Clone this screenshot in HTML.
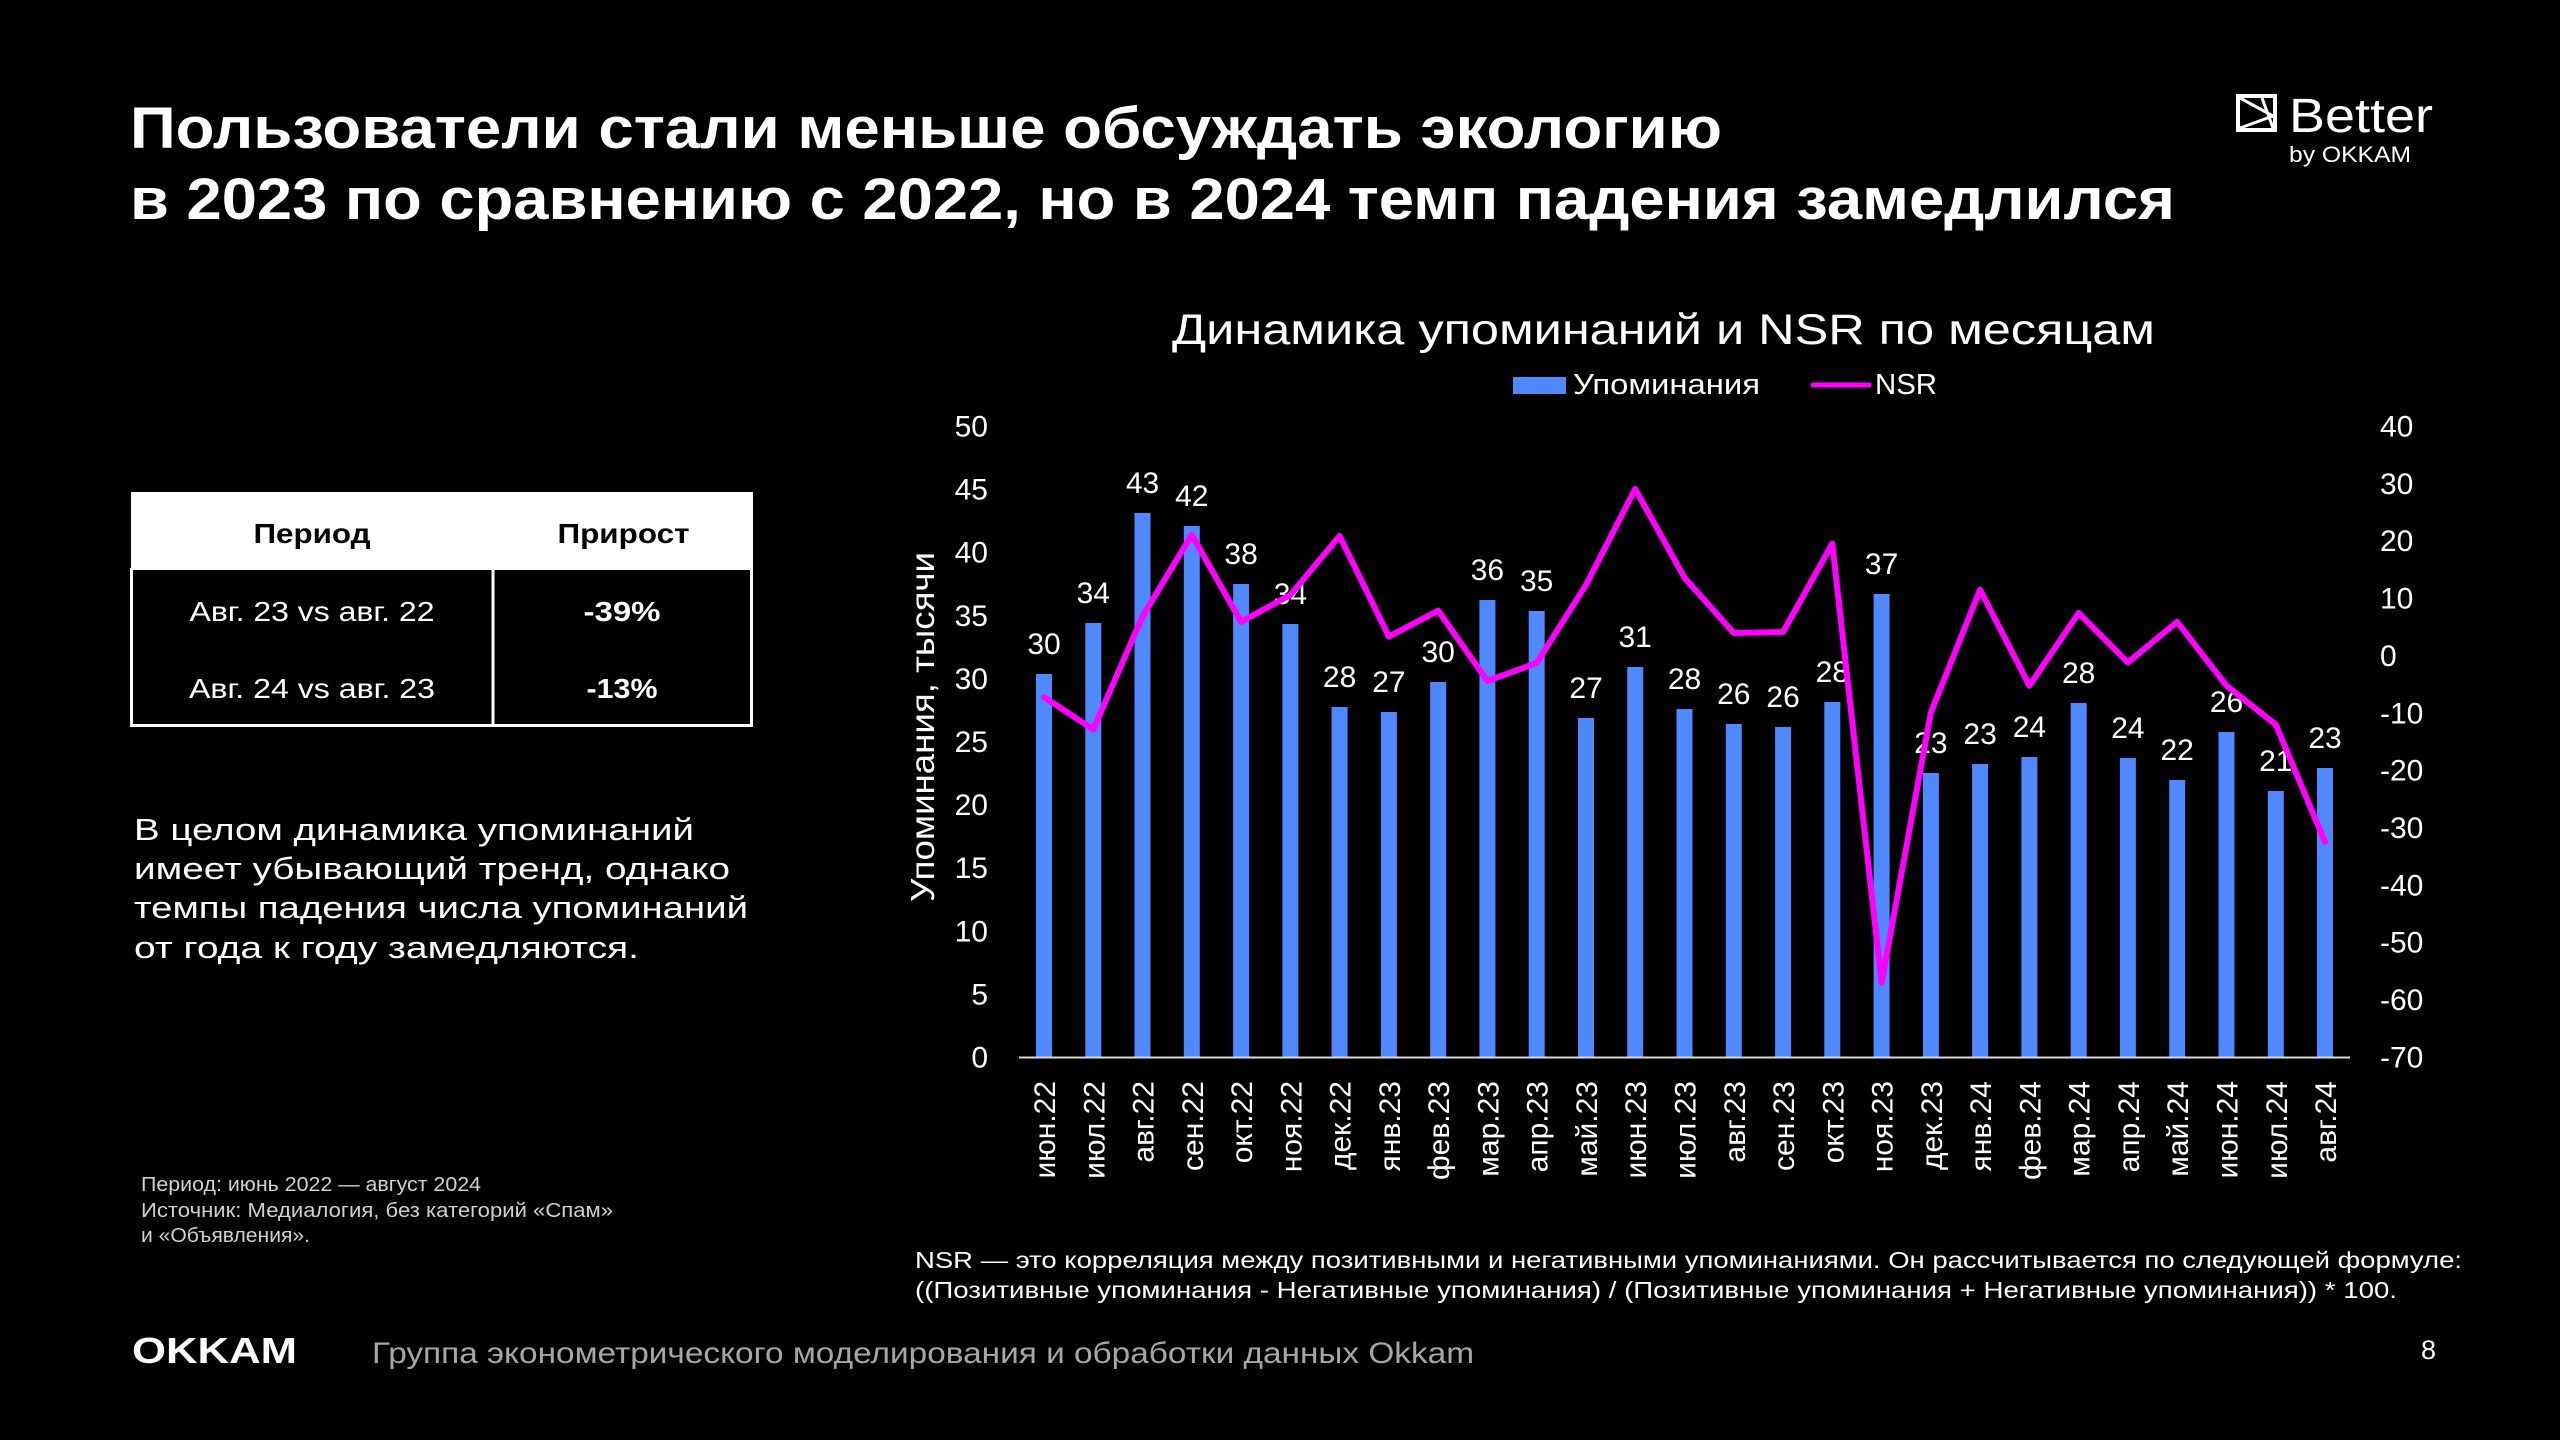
<!DOCTYPE html>
<html><head><meta charset="utf-8">
<style>
html,body{margin:0;padding:0;background:#000;}
svg{display:block;}
text{font-family:"Liberation Sans","Noto Sans CJK SC",sans-serif;}
</style></head>
<body>
<svg width="2560" height="1440" viewBox="0 0 2560 1440" xmlns="http://www.w3.org/2000/svg">
<rect x="0" y="0" width="2560" height="1440" fill="#000"/>

<!-- Title -->
<text x="130" y="148" font-size="58" font-weight="bold" fill="#fff" textLength="1592" lengthAdjust="spacingAndGlyphs">Пользователи стали меньше обсуждать экологию</text>
<text x="130" y="219" font-size="58" font-weight="bold" fill="#fff" textLength="2045" lengthAdjust="spacingAndGlyphs">в 2023 по сравнению с 2022, но в 2024 темп падения замедлился</text>

<!-- Better logo -->
<rect x="2238" y="96" width="37" height="34" fill="none" stroke="#fff" stroke-width="4"/>
<path d="M2240 98 L2273 116 L2240 128 M2262 98 L2273 128" fill="none" stroke="#fff" stroke-width="3"/>
<text x="2289" y="132" font-size="48" fill="#fff" textLength="144" lengthAdjust="spacingAndGlyphs">Better</text>
<text x="2289" y="162" font-size="22" fill="#fff" textLength="122" lengthAdjust="spacingAndGlyphs">by OKKAM</text>

<!-- Table -->
<rect x="131" y="492" width="622" height="78" fill="#fff"/>
<line x1="131.5" y1="568" x2="131.5" y2="727" stroke="#fff" stroke-width="3"/>
<line x1="751.5" y1="568" x2="751.5" y2="727" stroke="#fff" stroke-width="3"/>
<line x1="493" y1="568" x2="493" y2="727" stroke="#fff" stroke-width="3"/>
<line x1="130" y1="725.5" x2="753" y2="725.5" stroke="#fff" stroke-width="3"/>
<text x="312" y="543" font-size="28" font-weight="bold" fill="#000" text-anchor="middle" textLength="117" lengthAdjust="spacingAndGlyphs">Период</text>
<text x="623.5" y="543" font-size="28" font-weight="bold" fill="#000" text-anchor="middle" textLength="132" lengthAdjust="spacingAndGlyphs">Прирост</text>
<text x="312" y="621" font-size="28" fill="#fff" text-anchor="middle" textLength="245" lengthAdjust="spacingAndGlyphs">Авг. 23 vs авг. 22</text>
<text x="622" y="621" font-size="28" font-weight="bold" fill="#fff" text-anchor="middle" textLength="77" lengthAdjust="spacingAndGlyphs">-39%</text>
<text x="312" y="698" font-size="28" fill="#fff" text-anchor="middle" textLength="246" lengthAdjust="spacingAndGlyphs">Авг. 24 vs авг. 23</text>
<text x="622" y="698" font-size="28" font-weight="bold" fill="#fff" text-anchor="middle" textLength="71" lengthAdjust="spacingAndGlyphs">-13%</text>

<!-- Paragraph -->
<text x="134" y="840" font-size="31" fill="#fff" textLength="560" lengthAdjust="spacingAndGlyphs">В целом динамика упоминаний</text>
<text x="134" y="879" font-size="31" fill="#fff" textLength="596" lengthAdjust="spacingAndGlyphs">имеет убывающий тренд, однако</text>
<text x="134" y="918" font-size="31" fill="#fff" textLength="614" lengthAdjust="spacingAndGlyphs">темпы падения числа упоминаний</text>
<text x="134" y="958" font-size="31" fill="#fff" textLength="505" lengthAdjust="spacingAndGlyphs">от года к году замедляются.</text>

<!-- Footnote -->
<text x="141" y="1191" font-size="20" fill="#d0d0d0" textLength="340" lengthAdjust="spacingAndGlyphs">Период: июнь 2022 — август 2024</text>
<text x="141" y="1217" font-size="20" fill="#d0d0d0" textLength="472" lengthAdjust="spacingAndGlyphs">Источник: Медиалогия, без категорий «Спам»</text>
<text x="141" y="1242" font-size="20" fill="#d0d0d0" textLength="169" lengthAdjust="spacingAndGlyphs">и «Объявления».</text>

<!-- Footer -->
<text x="132" y="1363" font-size="36" font-weight="bold" fill="#fff" textLength="165" lengthAdjust="spacingAndGlyphs">OKKAM</text>
<text x="372" y="1363" font-size="30" fill="#a6a6a6" textLength="1102" lengthAdjust="spacingAndGlyphs">Группа эконометрического моделирования и обработки данных Okkam</text>
<text x="2421" y="1359" font-size="27" fill="#fff">8</text>

<!-- NSR note -->
<text x="915" y="1268" font-size="23" fill="#fff" textLength="1547" lengthAdjust="spacingAndGlyphs">NSR — это корреляция между позитивными и негативными упоминаниями. Он рассчитывается по следующей формуле:</text>
<text x="915" y="1298" font-size="23" fill="#fff" textLength="1482" lengthAdjust="spacingAndGlyphs">((Позитивные упоминания - Негативные упоминания) / (Позитивные упоминания + Негативные упоминания)) * 100.</text>

<!-- Chart title & legend -->
<text x="1172" y="344" font-size="43" fill="#fff" textLength="983" lengthAdjust="spacingAndGlyphs">Динамика упоминаний и NSR по месяцам</text>
<rect x="1513" y="377" width="53" height="17" fill="#5088ff"/>
<text x="1573" y="394" font-size="29" fill="#fff" textLength="187" lengthAdjust="spacingAndGlyphs">Упоминания</text>
<line x1="1813" y1="385" x2="1869" y2="385" stroke="#ff00ff" stroke-width="5" stroke-linecap="round"/>
<text x="1875" y="394" font-size="29" fill="#fff" textLength="62" lengthAdjust="spacingAndGlyphs">NSR</text>

<!-- Left axis ticks -->
<g font-size="30" fill="#fff" text-anchor="end">
<text x="988" y="436.5">50</text>
<text x="988" y="499.6">45</text>
<text x="988" y="562.7">40</text>
<text x="988" y="625.8">35</text>
<text x="988" y="688.9">30</text>
<text x="988" y="752">25</text>
<text x="988" y="815.1">20</text>
<text x="988" y="878.2">15</text>
<text x="988" y="941.3">10</text>
<text x="988" y="1004.4">5</text>
<text x="988" y="1067.5">0</text>
</g>
<!-- Right axis ticks -->
<g font-size="30" fill="#fff" text-anchor="start">
<text x="2380" y="436.5">40</text>
<text x="2380" y="493.9">30</text>
<text x="2380" y="551.2">20</text>
<text x="2380" y="608.6">10</text>
<text x="2380" y="665.9">0</text>
<text x="2380" y="723.3">-10</text>
<text x="2380" y="780.7">-20</text>
<text x="2380" y="838">-30</text>
<text x="2380" y="895.4">-40</text>
<text x="2380" y="952.7">-50</text>
<text x="2380" y="1010.1">-60</text>
<text x="2380" y="1067.5">-70</text>
</g>

<!-- Y axis title -->
<text transform="translate(934,727) rotate(-90)" font-size="33" fill="#fff" text-anchor="middle" textLength="350" lengthAdjust="spacingAndGlyphs">Упоминания, тысячи</text>

<!-- Bars -->
<g fill="#5088ff">
<rect x="1036" y="674" width="16" height="383"/>
<rect x="1085.3" y="623" width="16" height="434"/>
<rect x="1134.5" y="513" width="16" height="544"/>
<rect x="1183.8" y="526" width="16" height="531"/>
<rect x="1233.1" y="584" width="16" height="473"/>
<rect x="1282.4" y="624" width="16" height="433"/>
<rect x="1331.6" y="707" width="16" height="350"/>
<rect x="1380.9" y="712" width="16" height="345"/>
<rect x="1430.2" y="682" width="16" height="375"/>
<rect x="1479.4" y="600" width="16" height="457"/>
<rect x="1528.7" y="611" width="16" height="446"/>
<rect x="1578" y="718" width="16" height="339"/>
<rect x="1627.2" y="667" width="16" height="390"/>
<rect x="1676.5" y="709" width="16" height="348"/>
<rect x="1725.8" y="724" width="16" height="333"/>
<rect x="1775.1" y="727" width="16" height="330"/>
<rect x="1824.3" y="702" width="16" height="355"/>
<rect x="1873.6" y="594" width="16" height="463"/>
<rect x="1922.9" y="773" width="16" height="284"/>
<rect x="1972.1" y="764" width="16" height="293"/>
<rect x="2021.4" y="757" width="16" height="300"/>
<rect x="2070.7" y="703" width="16" height="354"/>
<rect x="2119.9" y="758" width="16" height="299"/>
<rect x="2169.2" y="780" width="16" height="277"/>
<rect x="2218.5" y="732" width="16" height="325"/>
<rect x="2267.8" y="791" width="16" height="266"/>
<rect x="2317" y="768" width="16" height="289"/>
</g>

<!-- Axis line -->
<line x1="1019" y1="1057.5" x2="2350" y2="1057.5" stroke="#d9d9d9" stroke-width="2"/>

<!-- Data labels -->
<g font-size="30" fill="#fff" text-anchor="middle">
<text x="1044" y="654">30</text>
<text x="1093.3" y="603">34</text>
<text x="1142.5" y="493">43</text>
<text x="1191.8" y="506">42</text>
<text x="1241.1" y="564">38</text>
<text x="1290.4" y="604">34</text>
<text x="1339.6" y="687">28</text>
<text x="1388.9" y="692">27</text>
<text x="1438.2" y="662">30</text>
<text x="1487.4" y="580">36</text>
<text x="1536.7" y="591">35</text>
<text x="1586" y="698">27</text>
<text x="1635.2" y="647">31</text>
<text x="1684.5" y="689">28</text>
<text x="1733.8" y="704">26</text>
<text x="1783.1" y="707">26</text>
<text x="1832.3" y="682">28</text>
<text x="1881.6" y="574">37</text>
<text x="1930.9" y="753">23</text>
<text x="1980.1" y="744">23</text>
<text x="2029.4" y="737">24</text>
<text x="2078.7" y="683">28</text>
<text x="2127.9" y="738">24</text>
<text x="2177.2" y="760">22</text>
<text x="2226.5" y="712">26</text>
<text x="2275.8" y="771">21</text>
<text x="2325" y="748">23</text>
</g>

<!-- NSR line -->
<polyline fill="none" stroke="#ff00ff" stroke-width="6" stroke-linejoin="round" stroke-linecap="round"
points="1044,697 1093.3,729.5 1142.5,616.5 1191.8,534.8 1241.1,621.9 1290.4,595 1339.6,536 1388.9,636.6 1438.2,610.7 1487.4,681 1536.7,663 1586,585 1635.2,489 1684.5,577.7 1733.8,633 1783.1,632 1832.3,543.75 1881.6,982.6 1930.9,712.5 1980.1,589.7 2029.4,685.7 2078.7,613 2127.9,662.5 2177.2,621.9 2226.5,685.7 2275.8,724.6 2325,842"/>

<!-- X axis labels -->
<g font-size="30" fill="#fff" text-anchor="end">
<text transform="translate(1055,1081) rotate(-90)">июн.22</text>
<text transform="translate(1104.3,1081) rotate(-90)">июл.22</text>
<text transform="translate(1153.5,1081) rotate(-90)">авг.22</text>
<text transform="translate(1202.8,1081) rotate(-90)">сен.22</text>
<text transform="translate(1252.1,1081) rotate(-90)">окт.22</text>
<text transform="translate(1301.4,1081) rotate(-90)">ноя.22</text>
<text transform="translate(1350.6,1081) rotate(-90)">дек.22</text>
<text transform="translate(1399.9,1081) rotate(-90)">янв.23</text>
<text transform="translate(1449.2,1081) rotate(-90)">фев.23</text>
<text transform="translate(1498.4,1081) rotate(-90)">мар.23</text>
<text transform="translate(1547.7,1081) rotate(-90)">апр.23</text>
<text transform="translate(1597,1081) rotate(-90)">май.23</text>
<text transform="translate(1646.2,1081) rotate(-90)">июн.23</text>
<text transform="translate(1695.5,1081) rotate(-90)">июл.23</text>
<text transform="translate(1744.8,1081) rotate(-90)">авг.23</text>
<text transform="translate(1794.1,1081) rotate(-90)">сен.23</text>
<text transform="translate(1843.3,1081) rotate(-90)">окт.23</text>
<text transform="translate(1892.6,1081) rotate(-90)">ноя.23</text>
<text transform="translate(1941.9,1081) rotate(-90)">дек.23</text>
<text transform="translate(1991.1,1081) rotate(-90)">янв.24</text>
<text transform="translate(2040.4,1081) rotate(-90)">фев.24</text>
<text transform="translate(2089.7,1081) rotate(-90)">мар.24</text>
<text transform="translate(2138.9,1081) rotate(-90)">апр.24</text>
<text transform="translate(2188.2,1081) rotate(-90)">май.24</text>
<text transform="translate(2237.5,1081) rotate(-90)">июн.24</text>
<text transform="translate(2286.8,1081) rotate(-90)">июл.24</text>
<text transform="translate(2336,1081) rotate(-90)">авг.24</text>
</g>
</svg>
</body></html>
